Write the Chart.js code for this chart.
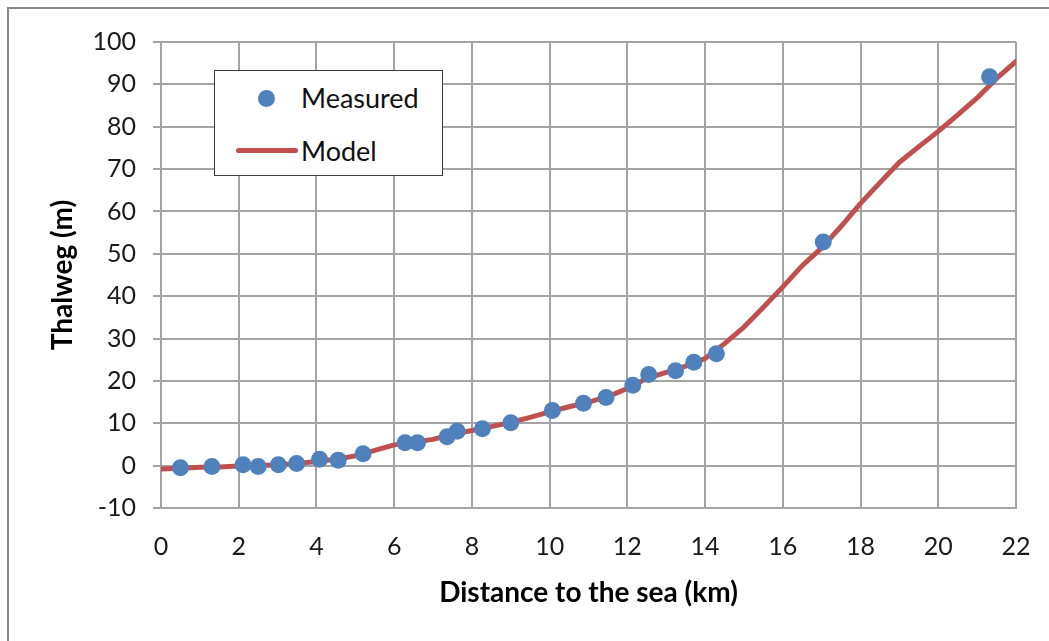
<!DOCTYPE html>
<html>
<head>
<meta charset="utf-8">
<script src="https://cdn.jsdelivr.net/npm/chart.js@4"></script>
<style>
  html, body { margin: 0; padding: 0; background: #fff; }
  #wrap { position: relative; width: 1049px; height: 641px; overflow: hidden; }
  #frame { position: absolute; left: 7px; top: 7px; width: 1100px; height: 700px;
           border-left: 2.5px solid #8a8a8a; border-top: 2.5px solid #8a8a8a; pointer-events: none; }
  #legend { position: absolute; left: 214px; top: 70px; width: 227px; height: 104px;
            background: #fff; border: 1.5px solid #3a3a3a; font-family: Lato, sans-serif;
            font-size: 27px; color: #111; }
  .item { position: absolute; left: 86px; line-height: 32px; }
  .dot { position: absolute; width: 17px; height: 17px; border-radius: 50%; background: #4F81BD; }
  .ln { position: absolute; height: 5px; border-radius: 3px; background: #C0504D; }
</style>
</head>
<body>
<div id="wrap">
  <canvas id="c" width="1049" height="641"></canvas>
  <div id="frame"></div>
  <div id="legend">
    <div class="dot" style="left:43px; top:19px;"></div>
    <div class="item" style="top:11px;">Measured</div>
    <div class="ln" style="left:21px; top:77px; width:62px;"></div>
    <div class="item" style="top:64px;">Model</div>
  </div>
</div>
<script>
const measuredX = [0.50, 1.31, 2.11, 2.50, 3.02, 3.49, 4.08, 4.56, 5.20, 6.28, 6.60, 7.36, 7.62, 8.27, 9.00, 10.07, 10.87, 11.45, 12.14, 12.55, 13.24, 13.71, 14.29, 17.04, 21.32];
const measuredY = [-0.5, -0.2, 0.2, -0.2, 0.2, 0.5, 1.5, 1.3, 2.8, 5.4, 5.4, 6.8, 8.1, 8.7, 10.1, 13.0, 14.7, 16.1, 19.0, 21.5, 22.4, 24.4, 26.4, 52.8, 91.8];

const modelX = [0, 0.5, 1, 1.5, 2, 2.5, 3, 3.5, 4, 4.5, 5, 5.5, 6, 6.5, 7, 7.5, 8, 8.5, 9, 9.5, 10, 10.5, 11, 11.5, 12, 12.5, 13, 13.5, 14, 14.5, 15, 15.5, 16, 16.5, 17, 17.5, 18, 18.5, 19, 19.5, 20, 20.5, 21, 21.5, 22];
const modelY = [-0.8, -0.6, -0.4, -0.3, -0.1, 0.0, 0.2, 0.5, 1.0, 1.5, 2.3, 3.6, 4.9, 5.6, 6.2, 7.4, 8.3, 9.2, 10.2, 11.4, 12.7, 13.9, 15.0, 16.3, 18.2, 20.6, 22.0, 23.5, 25.3, 28.8, 32.7, 37.4, 42.2, 47.2, 51.4, 56.5, 61.9, 66.8, 71.6, 75.3, 78.9, 82.8, 86.8, 91.4, 95.4];

const xTitle = 'Distance to the sea (km)';
const yTitle = 'Thalweg (m)';
const seriesNames = ['Measured', 'Model'];

const gridColor = '#a4a4a4';
const tickFont = { family: 'Lato, sans-serif', size: 25 };
const titleFont = { family: 'Lato, sans-serif', size: 28, weight: 'bold' };

new Chart(document.getElementById('c'), {
  type: 'scatter',
  data: {
    datasets: [
      {
        label: seriesNames[0],
        data: measuredX.map((x, i) => ({ x, y: measuredY[i] })),
        pointRadius: 8.5,
        pointHoverRadius: 8.5,
        pointBackgroundColor: '#4F81BD',
        pointBorderColor: '#4F81BD',
        pointBorderWidth: 0,
        showLine: false
      },
      {
        label: seriesNames[1],
        data: modelX.map((x, i) => ({ x, y: modelY[i] })),
        showLine: true,
        borderColor: '#C0504D',
        borderWidth: 5,
        pointRadius: 0,
        tension: 0,
        borderCapStyle: 'round',
        borderJoinStyle: 'round'
      }
    ]
  },
  options: {
    responsive: false,
    animation: false,
    events: [],
    layout: { padding: { top: 42, right: 33, left: 0, bottom: 0 } },
    plugins: { legend: { display: false }, tooltip: { enabled: false } },
    scales: {
      x: {
        type: 'linear', min: 0, max: 22,
        afterFit: s => { s.height = 133; s.paddingLeft = 0; s.paddingRight = 0; },
        ticks: { stepSize: 2, color: '#1a1a1a', font: tickFont, padding: 24, maxRotation: 0 },
        grid: { color: gridColor, lineWidth: 2, drawTicks: false },
        border: { color: gridColor, width: 2 },
        title: { display: true, text: xTitle, color: '#000', font: titleFont, padding: { top: 0, bottom: 31 } }
      },
      y: {
        type: 'linear', min: -10, max: 100,
        afterFit: s => { s.width = 161; s.paddingTop = 0; s.paddingBottom = 0; },
        ticks: { stepSize: 10, color: '#1a1a1a', font: tickFont, padding: 17 },
        grid: { color: gridColor, lineWidth: 2, tickLength: 8 },
        border: { color: gridColor, width: 2 },
        title: { display: true, text: yTitle, color: '#000', font: titleFont, padding: { top: 46, bottom: 0 } }
      }
    }
  }
});
</script>
</body>
</html>
